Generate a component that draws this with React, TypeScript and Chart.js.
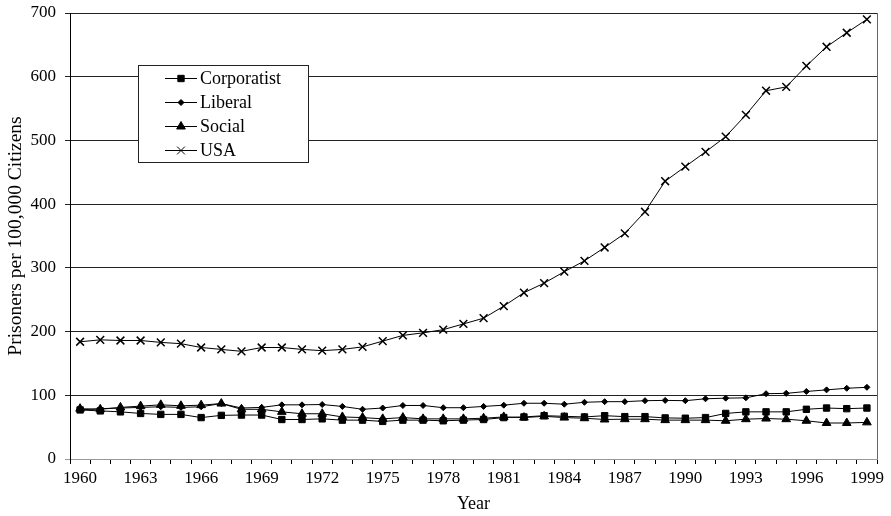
import React, { useEffect, useRef } from "react";
import { Chart, registerables } from "chart.js";
import { drawPoint } from "chart.js/helpers";

Chart.register(...registerables);

const years = Array.from({ length: 40 }, (_, i) => String(1960 + i));

const corporatist = [77, 75.5, 74, 71.5, 70, 70, 65, 68.5, 69, 69, 62, 62, 63, 61, 61, 59, 61, 61, 60, 61, 62, 65, 66, 68, 67, 66, 68, 66.5, 66.5, 64.5, 64, 65, 71.5, 74, 74, 74, 78, 80, 79, 80];
const liberal = [77, 79, 80, 81, 82, 81, 82, 87, 80, 81, 85, 85, 85.5, 82.5, 78, 80, 84, 84, 80.5, 80.5, 82.5, 84.5, 87.5, 87.5, 86, 89, 90, 90, 91.5, 92, 91.5, 94.5, 95.5, 96, 102.5, 103, 106, 108.5, 111, 112.5];
const social = [79, 78, 81, 83, 85, 83.5, 84.5, 87, 78, 78, 74, 71, 71, 66, 65, 63, 65, 63, 63, 63, 64, 66, 65, 67, 65, 64, 62, 62.5, 62.5, 61, 61, 61, 60, 62.5, 63.5, 62.5, 60, 56.5, 56.5, 57.5];
const usa = [184, 187, 186, 186, 183, 181, 175, 172, 169, 175, 175, 172, 170, 172, 176, 185, 194, 198, 203, 212, 221, 240, 261, 276, 294, 311, 332, 354, 388, 436, 459, 482, 506, 540, 578, 584, 617, 647, 669, 690];

const seriesNames = ["Corporatist", "Liberal", "Social", "USA"];
const yTitle = "Prisoners per 100,000 Citizens";
const xTitle = "Year";

const FONT = "'Liberation Serif', 'Times New Roman', serif";

const legendPlugin = {
  id: "boxLegend",
  afterDraw(chart: any) {
    const ctx = chart.ctx;
    const x0 = 138, y0 = 65, w = 170, h = 97;
    ctx.save();
    ctx.fillStyle = "#fff";
    ctx.fillRect(x0, y0, w, h);
    ctx.strokeStyle = "#222";
    ctx.lineWidth = 1;
    ctx.strokeRect(x0 + 0.5, y0 + 0.5, w, h);
    chart.data.datasets.forEach((ds: any, i: number) => {
      const cy = y0 + 13 + i * 24;
      ctx.strokeStyle = "#000";
      ctx.lineWidth = 1;
      ctx.beginPath();
      ctx.moveTo(165, cy + 0.5);
      ctx.lineTo(197, cy + 0.5);
      ctx.stroke();
      ctx.fillStyle = "#000";
      drawPoint(ctx, { pointStyle: ds.pointStyle, radius: ds.pointRadius, borderWidth: ds.pointBorderWidth, rotation: 0 }, 181, cy + 0.5);
      ctx.fillStyle = "#000";
      ctx.font = `18px ${FONT}`;
      ctx.textBaseline = "middle";
      ctx.textAlign = "left";
      ctx.fillText(ds.label, 200, cy + 1);
    });
    const a = chart.chartArea;
    ctx.strokeStyle = "#666";
    ctx.beginPath();
    ctx.moveTo(a.right + 0.5, a.top);
    ctx.lineTo(a.right + 0.5, a.bottom);
    ctx.stroke();
    ctx.restore();
  },
};

export default function App() {
  const ref = useRef<HTMLCanvasElement>(null);
  useEffect(() => {
    if (!ref.current) return;
    const mk = (label: string, data: number[], style: string, r: number, bw: number) => ({
      label,
      data,
      borderColor: "#000",
      backgroundColor: "#000",
      borderWidth: 1,
      pointStyle: style,
      pointRadius: r,
      pointBorderWidth: bw,
      pointBackgroundColor: "#000",
      pointBorderColor: "#000",
      tension: 0,
    });
    const chart = new Chart(ref.current, {
      type: "line",
      data: {
        labels: years,
        datasets: [
          mk(seriesNames[0], corporatist, "rect", 4.5, 1),
          mk(seriesNames[1], liberal, "rectRot", 3, 1),
          mk(seriesNames[2], social, "triangle", 5, 1),
          mk(seriesNames[3], usa, "crossRot", 5.5, 1.5),
        ],
      },
      options: {
        responsive: false,
        animation: false,
        layout: { padding: { top: 13, right: 14, left: 0, bottom: 0 } },
        plugins: { legend: { display: false }, tooltip: { enabled: false } },
        scales: {
          x: {
            type: "category",
            offset: true,
            afterFit(s: any) { s.height = 57; s.paddingLeft = 0; s.paddingRight = 0; },
            grid: { offset: true, drawOnChartArea: false, drawTicks: true, tickLength: 5, color: "#000" },
            border: { display: true, color: "#999", width: 1 },
            ticks: {
              autoSkip: false,
              maxRotation: 0,
              padding: 4,
              color: "#000",
              font: { family: FONT, size: 17 },
              callback: (_v: any, i: number) => (i % 3 === 0 ? years[i] : ""),
            },
            title: { display: true, text: xTitle, color: "#000", font: { family: FONT, size: 18 }, padding: { top: 0, bottom: 1 } },
          },
          y: {
            min: 0,
            max: 700,
            afterFit(s: any) { s.width = 70; s.paddingTop = 0; s.paddingBottom = 0; },
            ticks: { stepSize: 100, padding: 9, color: "#000", font: { family: FONT, size: 17 } },
            grid: {
              color: (c: any) => (c.tick && c.tick.value === 0 ? "#999" : "#222"),
              tickLength: 5,
            },
            border: { display: true, color: "#000", width: 1 },
            title: { display: true, text: yTitle, color: "#000", font: { family: FONT, size: 19.5 }, padding: { top: 4, bottom: 0 } },
          },
        },
      },
      plugins: [legendPlugin],
    } as any);
    return () => chart.destroy();
  }, []);
  return (
    <div style={{ position: "fixed", left: 0, top: 0, width: 891, height: 516, background: "#fff" }}>
      <canvas ref={ref} width={891} height={516} style={{ width: 891, height: 516 }} />
    </div>
  );
}
